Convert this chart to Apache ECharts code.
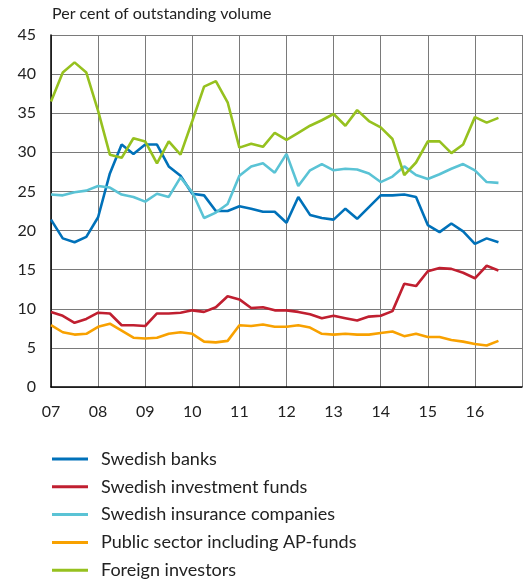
<!DOCTYPE html>
<html>
<head>
<meta charset="utf-8">
<script src="https://cdn.jsdelivr.net/npm/echarts@6/dist/echarts.min.js"></script>
<style>
  html, body { margin: 0; padding: 0; background: #fff; }
  #chart { width: 525px; height: 581px; }
</style>
</head>
<body>
<div id="chart"></div>
<script>
// Quarterly observations, first quarter of 2007 to the third quarter of 2016
const startYear = 2007;
const quarters = [];
for (let y = 2007; y <= 2016; y++) {
  for (let q = 1; q <= 4; q++) quarters.push(y + 'Q' + q);
}
quarters.length = 39;

const yTicks = [0, 5, 10, 15, 20, 25, 30, 35, 40, 45];
const xTickLabels = ['07', '08', '09', '10', '11', '12', '13', '14', '15', '16'];

const swedishBanks = [21.4, 19.0, 18.5, 19.2, 21.7, 27.3, 31.0, 29.8, 31.0, 31.0,
  28.2, 27.0, 24.7, 24.5, 22.5, 22.5, 23.1, 22.8, 22.4, 22.4,
  21.0, 24.3, 22.0, 21.6, 21.4, 22.8, 21.5, 23.0, 24.5, 24.5,
  24.6, 24.3, 20.7, 19.8, 20.9, 19.9, 18.3, 19.0, 18.5];

const investmentFunds = [9.6, 9.1, 8.2, 8.7, 9.5, 9.4, 7.9, 7.9, 7.8, 9.4,
  9.4, 9.5, 9.8, 9.6, 10.2, 11.6, 11.2, 10.1, 10.2, 9.8,
  9.8, 9.6, 9.3, 8.8, 9.1, 8.8, 8.5, 9.0, 9.1, 9.7,
  13.2, 12.9, 14.8, 15.2, 15.1, 14.6, 13.9, 15.5, 14.9];

const insuranceCompanies = [24.6, 24.5, 24.9, 25.1, 25.7, 25.5, 24.6, 24.3, 23.7, 24.7,
  24.3, 26.8, 24.9, 21.6, 22.3, 23.4, 27.0, 28.2, 28.6, 27.4,
  29.8, 25.7, 27.7, 28.5, 27.7, 27.9, 27.8, 27.3, 26.2, 26.9,
  28.2, 27.1, 26.6, 27.2, 27.9, 28.5, 27.7, 26.2, 26.1];

const publicSector = [7.9, 7.0, 6.7, 6.8, 7.7, 8.1, 7.2, 6.3, 6.2, 6.3,
  6.8, 7.0, 6.8, 5.8, 5.7, 5.9, 7.9, 7.8, 8.0, 7.7,
  7.7, 7.9, 7.6, 6.8, 6.7, 6.8, 6.7, 6.7, 6.9, 7.1,
  6.5, 6.8, 6.4, 6.4, 6.0, 5.8, 5.5, 5.3, 5.9];

const foreignInvestors = [36.5, 40.2, 41.5, 40.2, 35.3, 29.7, 29.3, 31.8, 31.4, 28.6,
  31.4, 29.7, 34.0, 38.4, 39.1, 36.4, 30.6, 31.1, 30.7, 32.5,
  31.6, 32.5, 33.4, 34.1, 34.9, 33.4, 35.4, 34.0, 33.2, 31.7,
  27.1, 28.7, 31.4, 31.4, 29.9, 31.0, 34.5, 33.8, 34.4];

const seriesNames = [
  'Swedish banks',
  'Swedish investment funds',
  'Swedish insurance companies',
  'Public sector including AP-funds',
  'Foreign investors'
];
const seriesColors = ['#0071b9', '#c01f30', '#5ac3d5', '#f8a100', '#96c11f'];
const seriesValues = [swedishBanks, investmentFunds, insuranceCompanies, publicSector, foreignInvestors];

// Turn "2007Q1" into a position on a continuous year axis
function quarterPos(label) {
  const y = parseInt(label.slice(0, 4), 10);
  const q = parseInt(label.slice(5), 10);
  return y + (q - 1) / 4;
}

const FONT = 'Lato, "Open Sans", sans-serif';
const chart = echarts.init(document.getElementById('chart'), null, { renderer: 'canvas' });

chart.setOption({
  animation: false,
  backgroundColor: '#ffffff',
  title: {
    text: 'Per cent of outstanding volume',
    left: 47,
    top: 1,
    textStyle: { fontFamily: FONT, fontSize: 16, fontWeight: 'normal', color: '#222' }
  },
  grid: { left: 51, top: 35, right: 0, bottom: 194, containLabel: false },
  xAxis: {
    type: 'value',
    min: 2007,
    max: 2017,
    interval: 1,
    axisLine: { show: true, onZero: false, lineStyle: { color: '#000', width: 1.5 } },
    axisTick: { show: false },
    axisLabel: {
      margin: 17,
      fontFamily: FONT, fontSize: 16, color: '#222',
      formatter: function (v) {
        const i = Math.round(v) - startYear;
        return xTickLabels[i] !== undefined ? xTickLabels[i] : '';
      }
    },
    splitLine: { show: true, lineStyle: { color: '#7a7a7a', width: 1 } }
  },
  yAxis: {
    type: 'value',
    min: yTicks[0],
    max: yTicks[yTicks.length - 1],
    interval: 5,
    axisLine: { show: true, lineStyle: { color: '#000', width: 1.5 } },
    axisTick: { show: false },
    axisLabel: { margin: 15, fontFamily: FONT, fontSize: 16, color: '#222' },
    splitLine: { show: true, lineStyle: { color: '#7a7a7a', width: 1 } }
  },
  legend: {
    orient: 'vertical',
    left: 52,
    top: 450,
    padding: 0,
    icon: 'rect',
    itemWidth: 36,
    itemHeight: 3,
    itemGap: 9.8,
    data: seriesNames,
    formatter: '{t|{name}}',
    textStyle: {
      fontFamily: FONT, fontSize: 18, color: '#222',
      rich: { t: { fontFamily: FONT, fontSize: 18, color: '#222', padding: [0, 0, 0, 8], lineHeight: 20 } }
    }
  },
  series: seriesNames.map(function (name, k) {
    return {
      name: name,
      type: 'line',
      showSymbol: false,
      symbol: 'none',
      color: seriesColors[k],
      lineStyle: { color: seriesColors[k], width: 2.6 },
      data: quarters.map(function (qLabel, i) { return [quarterPos(qLabel), seriesValues[k][i]]; })
    };
  })
});
</script>
</body>
</html>
